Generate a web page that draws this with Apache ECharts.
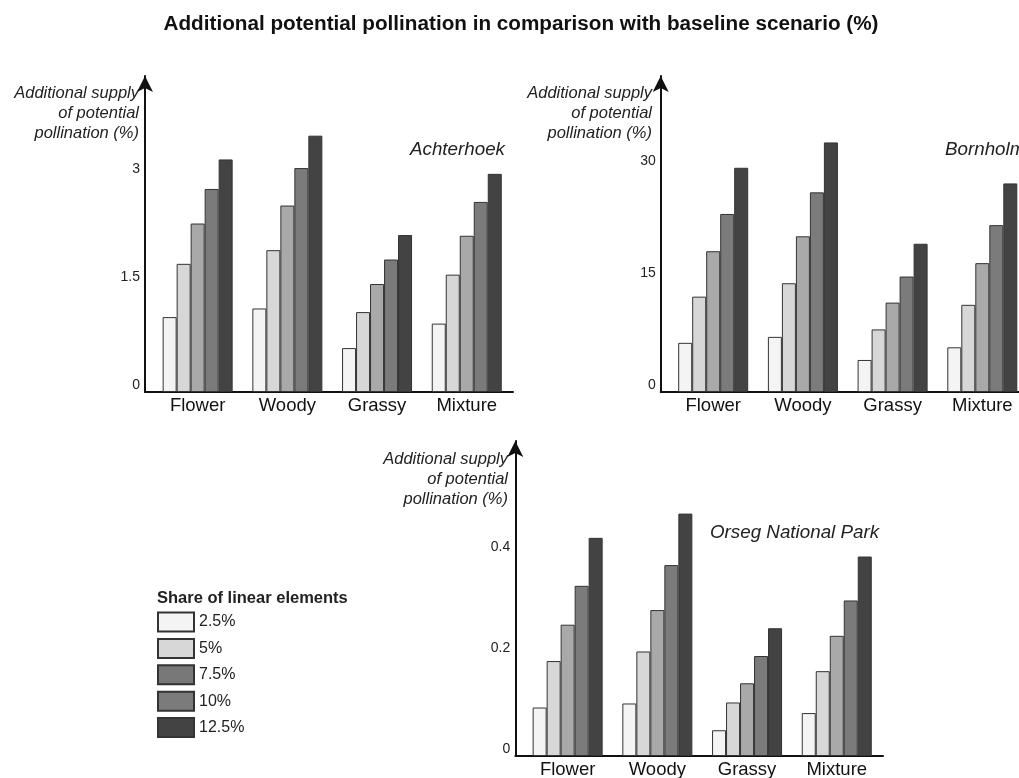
<!DOCTYPE html>
<html>
<head>
<meta charset="utf-8">
<script src="https://cdn.jsdelivr.net/npm/echarts@6/dist/echarts.min.js"></script>
<style>
html,body{margin:0;padding:0;background:#fff;}
#chart{width:1019px;height:778px;}
</style>
</head>
<body>
<div id="chart"></div>
<script>
// ---- data ----
const categories = ['Flower', 'Woody', 'Grassy', 'Mixture'];
const shares = ['2.5%', '5%', '7.5%', '10%', '12.5%'];
const yTicksAchterhoek = [0, 1.5, 3];
const yTicksBornholm = [0, 15, 30];
const yTicksOrseg = [0, 0.2, 0.4];
// rows: share of linear elements; columns: categories
const achterhoekValues = [
  [1.04, 1.16, 0.61, 0.95],
  [1.78, 1.97, 1.11, 1.63],
  [2.34, 2.59, 1.50, 2.17],
  [2.82, 3.11, 1.84, 2.64],
  [3.23, 3.56, 2.18, 3.03]
];
const bornholmValues = [
  [6.6, 7.4, 4.3, 6.0],
  [12.8, 14.6, 8.4, 11.7],
  [18.9, 20.9, 12.0, 17.3],
  [23.9, 26.8, 15.5, 22.4],
  [30.1, 33.5, 19.9, 28.0]
];
const orsegValues = [
  [0.096, 0.104, 0.051, 0.085],
  [0.188, 0.207, 0.106, 0.168],
  [0.260, 0.289, 0.144, 0.238],
  [0.337, 0.378, 0.198, 0.308],
  [0.432, 0.480, 0.253, 0.395]
];

// ---- styles ----
const FONT = '"Liberation Sans", Arial, sans-serif';
const barColors = ['#f4f4f4', '#d7d7d7', '#a9a9a9', '#7b7b7b', '#434343'];
const legendColors = ['#f4f4f4', '#d7d7d7', '#787878', '#7b7b7b', '#434343'];

const panels = [
  { title: 'Achterhoek', values: achterhoekValues, ticks: yTicksAchterhoek, max: 4.389,
    aLeft: 145, aWidth: 368, bLeft: 152.8, top: 76, bottom: 386 },
  { title: 'Bornholm', values: bornholmValues, ticks: yTicksBornholm, max: 42.42,
    aLeft: 660.7, aWidth: 380, bLeft: 668.35, top: 76, bottom: 386 },
  { title: 'Orseg National Park', values: orsegValues, ticks: yTicksOrseg, max: 0.6238,
    aLeft: 515.3, aWidth: 367.7, bLeft: 522.8, top: 441, bottom: 22 }
];

const grid = [], xAxis = [], yAxis = [], series = [];
panels.forEach((p, pi) => {
  const a = pi * 2, b = pi * 2 + 1;
  const interval = p.ticks[1] - p.ticks[0];
  grid.push({ left: p.aLeft, width: p.aWidth, top: p.top, bottom: p.bottom, outerBoundsMode: 'none' });
  grid.push({ left: p.bLeft, width: 358.8, top: p.top, bottom: p.bottom, outerBoundsMode: 'none' });
  xAxis.push({
    gridIndex: a, type: 'category', data: categories,
    axisLine: { show: true, lineStyle: { color: '#111', width: 2 } },
    axisTick: { show: false }, axisLabel: { show: false }, splitLine: { show: false }
  });
  xAxis.push({
    gridIndex: b, type: 'category', data: categories,
    axisLine: { show: false }, axisTick: { show: false }, splitLine: { show: false },
    axisLabel: { fontSize: 18.5, color: '#111', margin: 4, fontFamily: FONT }
  });
  yAxis.push({
    gridIndex: a, type: 'value', min: 0, max: p.max, interval: interval,
    axisLine: { show: true, lineStyle: { color: '#111', width: 2 }, symbol: ['none', 'arrow'], symbolSize: [12, 16] },
    axisTick: { show: false }, splitLine: { show: false },
    axisLabel: {
      fontSize: 14, color: '#222', margin: 5, verticalAlign: 'bottom', showMaxLabel: false, fontFamily: FONT,
      formatter: v => {
        const t = p.ticks.find(k => Math.abs(k - v) < interval * 1e-3);
        return t === undefined ? '' : String(t);
      }
    }
  });
  yAxis.push({ gridIndex: b, type: 'value', min: 0, max: p.max, show: false, splitLine: { show: false } });
  shares.forEach((s, si) => {
    series.push({
      type: 'bar', name: s, xAxisIndex: b, yAxisIndex: b,
      data: p.values[si], barWidth: 14, barGap: '0%',
      itemStyle: { color: barColors[si], borderColor: '#333', borderWidth: 1 },
      emphasis: { disabled: true }
    });
  });
});

const axisName = 'Additional supply\nof potential\npollination (%)';
const textStyle = (t, font, align) => ({ text: t, font: font, fill: '#222', align: align, verticalAlign: 'middle', lineHeight: 20 });

const option = {
  animation: false,
  backgroundColor: '#fff',
  legend: {
    data: shares.map((s, i) => ({ name: s, itemStyle: { color: legendColors[i] } })),
    orient: 'vertical', left: 157, top: 611.5, padding: 0, itemWidth: 36, itemHeight: 19, itemGap: 5.4,
    icon: 'rect', selectedMode: false,
    textStyle: { fontSize: 16, color: '#222', fontFamily: FONT }
  },
  grid, xAxis, yAxis, series,
  graphic: [
    { type: 'text', x: 521, y: 24, style: { text: 'Additional potential pollination in comparison with baseline scenario (%)',
      font: 'bold 20.7px ' + FONT, fill: '#111', align: 'center', verticalAlign: 'middle' } },
    { type: 'text', x: 139, y: 113.3, style: textStyle(axisName, 'italic 16.5px ' + FONT, 'right') },
    { type: 'text', x: 652, y: 113.3, style: textStyle(axisName, 'italic 16.5px ' + FONT, 'right') },
    { type: 'text', x: 508, y: 479.3, style: textStyle(axisName, 'italic 16.5px ' + FONT, 'right') },
    { type: 'text', x: 505, y: 150, style: textStyle(panels[0].title, 'italic 18.8px ' + FONT, 'right') },
    { type: 'text', x: 945, y: 150, style: textStyle(panels[1].title, 'italic 18.8px ' + FONT, 'left') },
    { type: 'text', x: 710, y: 533, style: textStyle(panels[2].title, 'italic 18.8px ' + FONT, 'left') },
    { type: 'text', x: 157, y: 598.5, style: textStyle('Share of linear elements', 'bold 16.5px ' + FONT, 'left') }
  ]
};

const chart = echarts.init(document.getElementById('chart'), null, { renderer: 'canvas' });
chart.setOption(option);
</script>
</body>
</html>
